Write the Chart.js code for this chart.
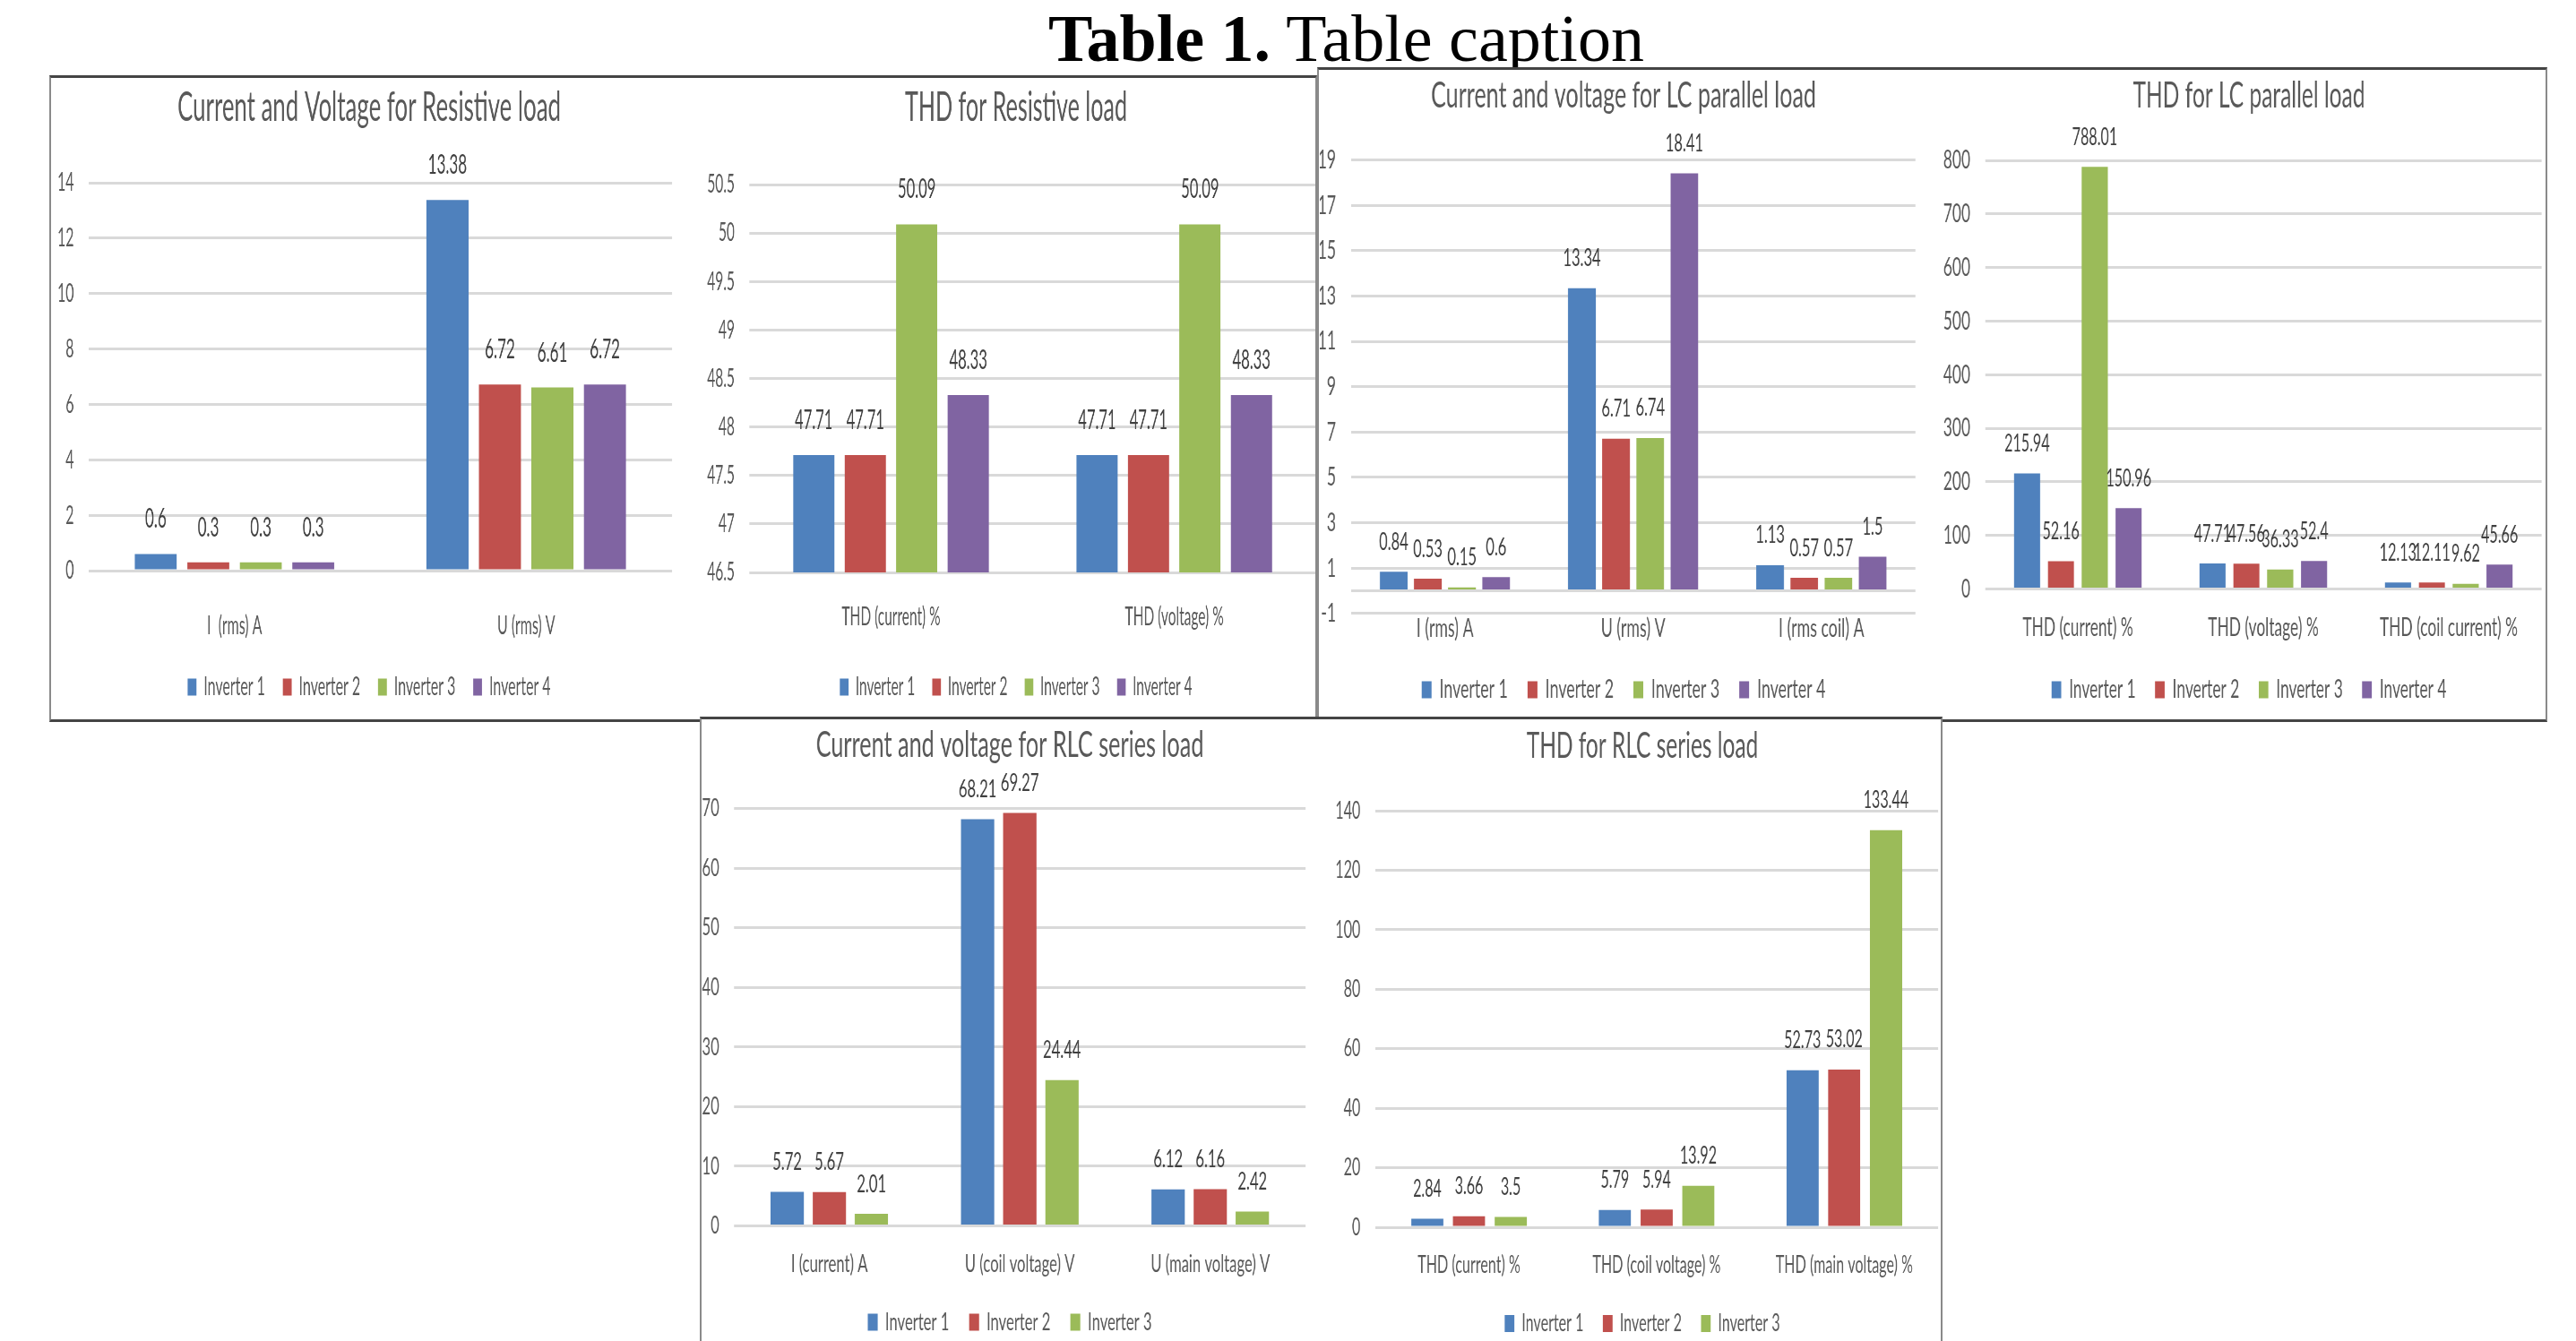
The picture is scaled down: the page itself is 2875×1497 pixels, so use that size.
<!DOCTYPE html>
<html>
<head>
<meta charset="utf-8">
<script src="https://cdn.jsdelivr.net/npm/chart.js@4.4.1/dist/chart.umd.min.js"></script>
<style>
  html, body { margin: 0; padding: 0; background: #fff; }
  body { width: 2875px; height: 1497px; position: relative; overflow: hidden; }
  #caption {
    position: absolute; left: 1170px; top: 6px; z-index: 0;
    font: 74px/74px "Liberation Serif", "Times New Roman", serif;
    color: #000; white-space: nowrap;
  }
  .panel {
    position: absolute; background: #fff; overflow: hidden; box-sizing: border-box;
    border-style: solid; border-width: 3px 2px 3px 2px;
    border-color: #444 #8a8a8a #444 #8a8a8a;
  }
  .panel canvas { position: absolute; }
</style>
</head>
<body>
<div id="caption"><b>Table 1.</b> Table caption</div>
<div class="panel" id="panelResistive" style="left:55px;top:84px;width:1415px;height:722px;z-index:1"></div>
<div class="panel" id="panelLC" style="left:1470px;top:75px;width:1373px;height:731px;z-index:2"></div>
<div class="panel" id="panelRLC" style="left:781px;top:800px;width:1387px;height:720px;z-index:3"></div>

<script>
const FONT = "Lato, 'Open Sans', sans-serif";
const inverterNames = ['Inverter 1', 'Inverter 2', 'Inverter 3', 'Inverter 4'];
const inverterColors = ['#4F81BD', '#C0504D', '#9BBB59', '#8064A2'];

// Resistive load: current and voltage
const resistiveCategories = ['I  (rms) A', 'U (rms) V'];
const resistiveInverter1 = [0.6, 13.38];
const resistiveInverter2 = [0.3, 6.72];
const resistiveInverter3 = [0.3, 6.61];
const resistiveInverter4 = [0.3, 6.72];
const resistiveTicks = [0, 2, 4, 6, 8, 10, 12, 14];

// Resistive load: THD
const thdResistiveCategories = ['THD (current) %', 'THD (voltage) %'];
const thdResistiveInverter1 = [47.71, 47.71];
const thdResistiveInverter2 = [47.71, 47.71];
const thdResistiveInverter3 = [50.09, 50.09];
const thdResistiveInverter4 = [48.33, 48.33];
const thdResistiveTicks = [46.5, 47, 47.5, 48, 48.5, 49, 49.5, 50, 50.5];

// LC parallel load: current and voltage
const lcCategories = ['I (rms) A', 'U (rms) V', 'I (rms coil) A'];
const lcInverter1 = [0.84, 13.34, 1.13];
const lcInverter2 = [0.53, 6.71, 0.57];
const lcInverter3 = [0.15, 6.74, 0.57];
const lcInverter4 = [0.6, 18.41, 1.5];
const lcTicks = [-1, 0, 1, 3, 5, 7, 9, 11, 13, 15, 17, 19];

// LC parallel load: THD
const thdLcCategories = ['THD (current) %', 'THD (voltage) %', 'THD (coil current) %'];
const thdLcInverter1 = [215.94, 47.71, 12.13];
const thdLcInverter2 = [52.16, 47.56, 12.11];
const thdLcInverter3 = [788.01, 36.33, 9.62];
const thdLcInverter4 = [150.96, 52.4, 45.66];
const thdLcTicks = [0, 100, 200, 300, 400, 500, 600, 700, 800];

// RLC series load: current and voltage
const rlcCategories = ['I (current) A', 'U (coil voltage) V', 'U (main voltage) V'];
const rlcInverter1 = [5.72, 68.21, 6.12];
const rlcInverter2 = [5.67, 69.27, 6.16];
const rlcInverter3 = [2.01, 24.44, 2.42];
const rlcTicks = [0, 10, 20, 30, 40, 50, 60, 70];

// RLC series load: THD
const thdRlcCategories = ['THD (current) %', 'THD (coil voltage) %', 'THD (main voltage) %'];
const thdRlcInverter1 = [2.84, 5.79, 52.73];
const thdRlcInverter2 = [3.66, 5.94, 53.02];
const thdRlcInverter3 = [3.5, 13.92, 133.44];
const thdRlcTicks = [0, 20, 40, 60, 80, 100, 120, 140];

// Writes each bar's value centred above it
const barValueLabels = {
  id: 'barValueLabels',
  afterDatasetsDraw(chart, args, opts) {
    const ctx = chart.ctx;
    ctx.save();
    ctx.font = `normal ${opts.size}px ${FONT}`;
    ctx.fillStyle = opts.color;
    ctx.textAlign = 'center';
    ctx.textBaseline = 'alphabetic';
    chart.data.datasets.forEach((ds, i) => {
      chart.getDatasetMeta(i).data.forEach((bar, j) => {
        ctx.fillText(String(ds.data[j]), bar.x, bar.y - opts.gap);
      });
    });
    ctx.restore();
  }
};

const measureCtx = document.createElement('canvas').getContext('2d');

// Each chart is laid out in page pixels; text is drawn narrow by
// stretching a wider canvas into the box horizontally.
function buildChart(cfg) {
  const L = cfg.layout;
  const panel = document.getElementById(L.panel);
  const pr = panel.getBoundingClientRect();
  const W = L.X1 - L.X0, H = L.B - L.T;

  measureCtx.font = `normal ${L.titlePx}px ${FONT}`;
  const sxTarget = L.titleW / measureCtx.measureText(cfg.title).width;
  const logicalW = Math.round(W / sxTarget);
  const sx = W / logicalW;

  const canvas = document.createElement('canvas');
  canvas.width = logicalW;
  canvas.height = H;
  canvas.style.width = W + 'px';
  canvas.style.height = H + 'px';
  canvas.style.left = (L.X0 - pr.left - panel.clientLeft) + 'px';
  canvas.style.top = (L.T - pr.top - panel.clientTop) + 'px';
  panel.appendChild(canvas);

  const yW = (L.PL - L.X0) / sx;
  const rW = (L.X1 - L.PR) / sx;
  const yPad = 16.5 / sx;
  const itemH = L.textPx;
  const legendPad = 36;
  const titleTop = L.TY - L.T - 0.6 * L.titlePx;
  const titleBottom = L.PT - L.T - titleTop - 1.2 * L.titlePx;
  const padBottom = L.B - (L.LY + itemH / 2 + 10);
  const legendTop = L.LY - itemH / 2 - legendPad;
  const xH = legendTop - L.PB;
  const xPad = L.CY - L.PB - 0.6 * L.textPx;
  const ticks = cfg.ticks;

  return new Chart(canvas, {
    type: 'bar',
    data: {
      labels: cfg.categories,
      datasets: cfg.series.map((d, i) => ({
        label: inverterNames[i],
        data: d,
        backgroundColor: inverterColors[i],
        borderWidth: 0,
        categoryPercentage: cfg.cp,
        barPercentage: cfg.bp
      }))
    },
    options: {
      responsive: false,
      animation: false,
      devicePixelRatio: 1,
      layout: { padding: { top: 0, left: 0, right: 0, bottom: padBottom } },
      plugins: {
        title: {
          display: true, text: cfg.title, color: '#595959',
          font: { family: FONT, size: L.titlePx, weight: 'normal', lineHeight: 1.2 },
          padding: { top: titleTop, bottom: titleBottom }
        },
        legend: {
          position: 'bottom',
          labels: {
            color: '#595959', font: { family: FONT, size: L.textPx },
            boxWidth: 18, boxHeight: 19, padding: legendPad
          }
        },
        tooltip: { enabled: false },
        barValueLabels: { size: L.valuePx, gap: L.valueGap, color: '#404040' }
      },
      scales: {
        x: {
          grid: { display: false },
          border: { display: false },
          ticks: {
            color: '#595959', font: { family: FONT, size: L.textPx },
            padding: xPad, autoSkip: false, maxRotation: 0, minRotation: 0
          },
          afterFit: s => { s.height = xH; }
        },
        y: {
          min: ticks[0],
          max: ticks[ticks.length - 1],
          grid: { color: '#D9D9D9', lineWidth: 3, drawTicks: false },
          border: { display: false },
          ticks: {
            color: '#595959', font: { family: FONT, size: L.textPx }, padding: yPad,
            callback: v => (cfg.hideZeroLabel && v === 0) ? '' : String(v)
          },
          afterBuildTicks: s => { s.ticks = ticks.map(v => ({ value: v })); },
          afterFit: s => { s.width = yW; }
        },
        spacer: {
          type: 'linear', position: 'right', display: true,
          grid: { display: false }, border: { display: false },
          ticks: { display: false },
          afterFit: s => { s.width = rW; }
        }
      }
    },
    plugins: [barValueLabels]
  });
}

buildChart({
  title: 'Current and Voltage for Resistive load',
  categories: resistiveCategories,
  series: [resistiveInverter1, resistiveInverter2, resistiveInverter3, resistiveInverter4],
  ticks: resistiveTicks, cp: 0.72, bp: 0.80,
  layout: { panel: 'panelResistive', X0: 57, X1: 767, T: 87, B: 804, PL: 99, PR: 750, PT: 204, PB: 637,
            TY: 120, CY: 691, LY: 767, titlePx: 47, textPx: 29, valuePx: 31, valueGap: 29, titleW: 428 }
});

buildChart({
  title: 'THD for Resistive load',
  categories: thdResistiveCategories,
  series: [thdResistiveInverter1, thdResistiveInverter2, thdResistiveInverter3, thdResistiveInverter4],
  ticks: thdResistiveTicks, cp: 0.727, bp: 0.80,
  layout: { panel: 'panelResistive', X0: 767, X1: 1501, T: 87, B: 804, PL: 836.4, PR: 1468.6, PT: 206, PB: 639,
            TY: 120, CY: 681, LY: 767, titlePx: 47, textPx: 29, valuePx: 31, valueGap: 29, titleW: 248 }
});

buildChart({
  title: 'Current and voltage for LC parallel load',
  categories: lcCategories,
  series: [lcInverter1, lcInverter2, lcInverter3, lcInverter4],
  ticks: lcTicks, cp: 0.726, bp: 0.81, hideZeroLabel: true,
  layout: { panel: 'panelLC', X0: 1473, X1: 2151, T: 78, B: 804, PL: 1507.6, PR: 2137.8, PT: 178.6, PB: 684.8,
            TY: 106.6, CY: 694, LY: 770, titlePx: 41, textPx: 29, valuePx: 27, valueGap: 24.5, titleW: 430 }
});

buildChart({
  title: 'THD for LC parallel load',
  categories: thdLcCategories,
  series: [thdLcInverter1, thdLcInverter2, thdLcInverter3, thdLcInverter4],
  ticks: thdLcTicks, cp: 0.73, bp: 0.77,
  layout: { panel: 'panelLC', X0: 2151, X1: 2869, T: 78, B: 804, PL: 2215.5, PR: 2836.5, PT: 179, PB: 657.6,
            TY: 106.6, CY: 693, LY: 770, titlePx: 41, textPx: 29, valuePx: 27, valueGap: 24.5, titleW: 259 }
});

buildChart({
  title: 'Current and voltage for RLC series load',
  categories: rlcCategories,
  series: [rlcInverter1, rlcInverter2, rlcInverter3],
  ticks: rlcTicks, cp: 0.664, bp: 0.79,
  layout: { panel: 'panelRLC', X0: 783, X1: 1471, T: 803, B: 1503, PL: 819.3, PR: 1457, PT: 902.7, PB: 1368.5,
            TY: 832, CY: 1403.5, LY: 1476, titlePx: 41, textPx: 27, valuePx: 27, valueGap: 24.5, titleW: 433 }
});

buildChart({
  title: 'THD for RLC series load',
  categories: thdRlcCategories,
  series: [thdRlcInverter1, thdRlcInverter2, thdRlcInverter3],
  ticks: thdRlcTicks, cp: 0.667, bp: 0.77,
  layout: { panel: 'panelRLC', X0: 1471, X1: 2195, T: 803, B: 1503, PL: 1534.8, PR: 2163, PT: 905, PB: 1370,
            TY: 833, CY: 1404.5, LY: 1477.5, titlePx: 41, textPx: 27, valuePx: 27, valueGap: 24.5, titleW: 258.6 }
});
</script>
</body>
</html>
